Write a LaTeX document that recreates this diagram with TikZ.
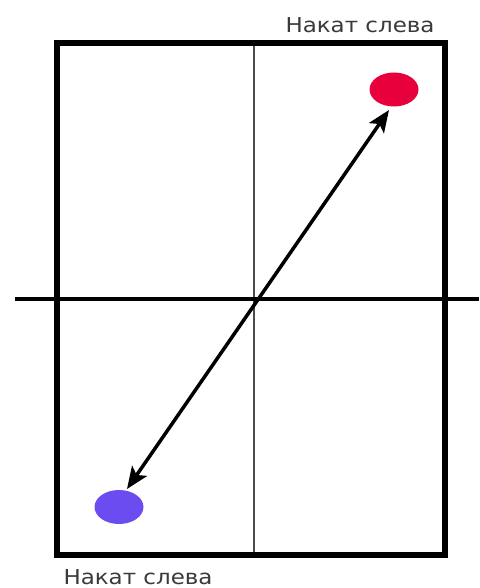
\documentclass[tikz,border=0pt]{standalone}
\usepackage{fontspec}
\setmainfont{DejaVu Sans}[FakeStretch=1.12]
\usetikzlibrary{arrows.meta,shapes.geometric}
\definecolor{dotred}{HTML}{E8003C}
\definecolor{dotblue}{HTML}{6A4CF0}
\definecolor{labelgray}{HTML}{3A3A3A}
\tikzset{
  frame/.style={line width=6pt},
  axis/.style={line width=4.5pt},
  thinaxis/.style={line width=1.5pt, draw=black!70},
  dot/.style={ellipse, minimum width=49pt, minimum height=34pt, inner sep=0pt},
  lbl/.style={text=labelgray, font=\fontsize{20.5}{24}\selectfont, inner sep=0pt, anchor=base},
  link/.style={line width=3.5pt, {Stealth[length=22pt,width=18pt,inset=5pt]}-{Stealth[length=22pt,width=18pt,inset=5pt]}}
}
\begin{document}
\begin{tikzpicture}[x=1pt,y=-1pt]
\useasboundingbox (0,0) rectangle (479,588);
\fill[white] (0,0) rectangle (479,588);
\coordinate (vt) at (254,43);
\coordinate (vb) at (254,555);
\coordinate (hl) at (15,299);
\coordinate (hr) at (479,299);
\draw[thinaxis] (vt) -- (vb);
\draw[axis] (hl) -- (hr);
\draw[frame] (57,43) rectangle (445,555);
\node[dot, fill=dotred] (red) at (394,89.5) {};
\node[dot, fill=dotblue] (blue) at (119,507) {};
\coordinate (tipb) at (127,489);
\coordinate (tipr) at (389,110);
\draw[link] (tipb) -- (tipr);
\node[lbl] (ltop) at (360,33) {Накат слева};
\node[lbl] (lbot) at (138,584) {Накат слева};
\end{tikzpicture}
\end{document}
